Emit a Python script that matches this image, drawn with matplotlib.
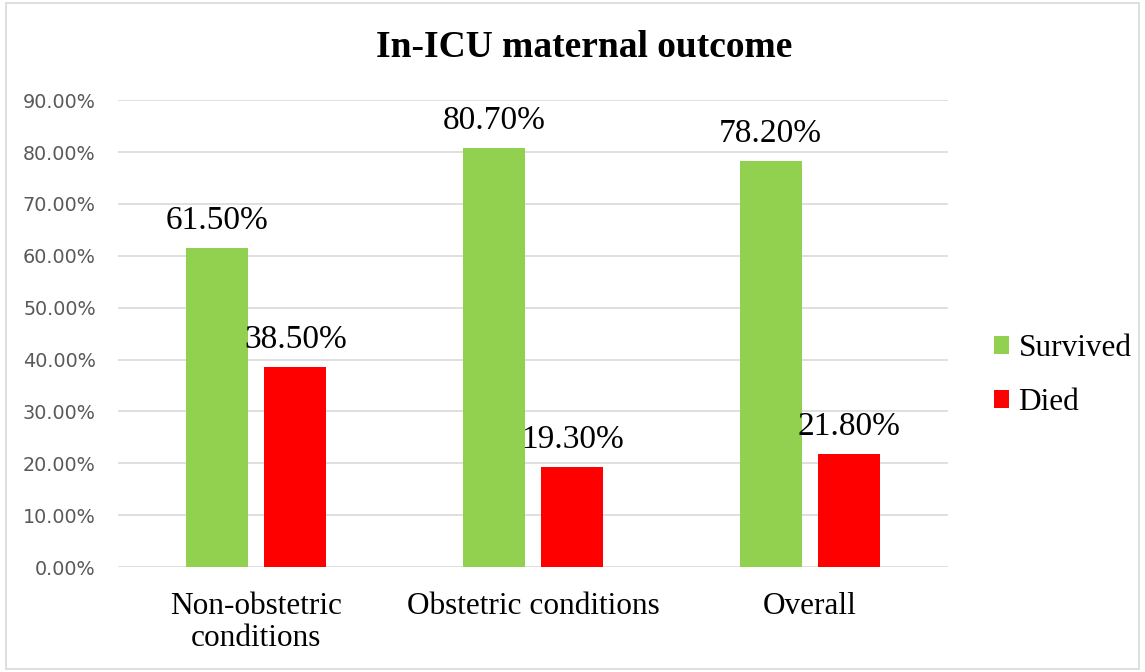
import matplotlib.pyplot as plt
import numpy as np
from matplotlib.patches import Rectangle

categories = ['Non-obstetric\nconditions', 'Obstetric conditions', 'Overall']
survived = [61.5, 80.7, 78.2]
died = [38.5, 19.3, 21.8]
yticks = [0, 10, 20, 30, 40, 50, 60, 70, 80, 90]

green = '#92d050'
red = '#ff0000'
serif = 'Liberation Serif'

fig = plt.figure(figsize=(11.45, 6.72), dpi=100)
ax = fig.add_axes([0.103, 0.156, 0.725, 0.695])

x = np.arange(len(categories))
w = 0.224
off = 0.141
b1 = ax.bar(x - off, survived, w, color=green, label='Survived', zorder=3)
b2 = ax.bar(x + off, died, w, color=red, label='Died', zorder=3)

for bars, vals in ((b1, survived), (b2, died)):
    for rect, v in zip(bars, vals):
        ax.annotate(f'{v:.2f}%', (rect.get_x() + rect.get_width() / 2, v),
                    xytext=(0, 9), textcoords='offset points',
                    ha='center', va='bottom', fontsize=24, family=serif)

ax.set_xlim(-0.5, 2.5)
ax.set_ylim(0, 90)
ax.set_yticks(yticks)
ax.set_yticklabels([f'{t:.2f}%' for t in yticks], color='#595959', fontsize=13.8)
ax.set_xticks(x)
ax.set_xticklabels(categories, fontsize=22.5, family=serif, linespacing=1.15)
ax.tick_params(length=0)
ax.tick_params(axis='y', pad=16)
ax.tick_params(axis='x', pad=18)
ax.grid(axis='y', color='#d9d9d9', linewidth=1.2, zorder=0)
for s in ax.spines.values():
    s.set_visible(False)

fig.text(0.51, 0.93, 'In-ICU maternal outcome', fontsize=27, fontweight='bold',
         family=serif, ha='center', va='center')

leg = ax.legend(loc='center left', bbox_to_anchor=(1.021, 0.41), frameon=False,
                prop={'family': serif, 'size': 22.5}, handlelength=0.5,
                handleheight=0.5, handletextpad=0.3, labelspacing=0.8)

fig.patches.append(Rectangle((0.005, 0.004), 0.99, 0.992, transform=fig.transFigure,
                             fill=False, edgecolor='#d9d9d9', linewidth=1.2))

fig.savefig('out.png', dpi=100)
